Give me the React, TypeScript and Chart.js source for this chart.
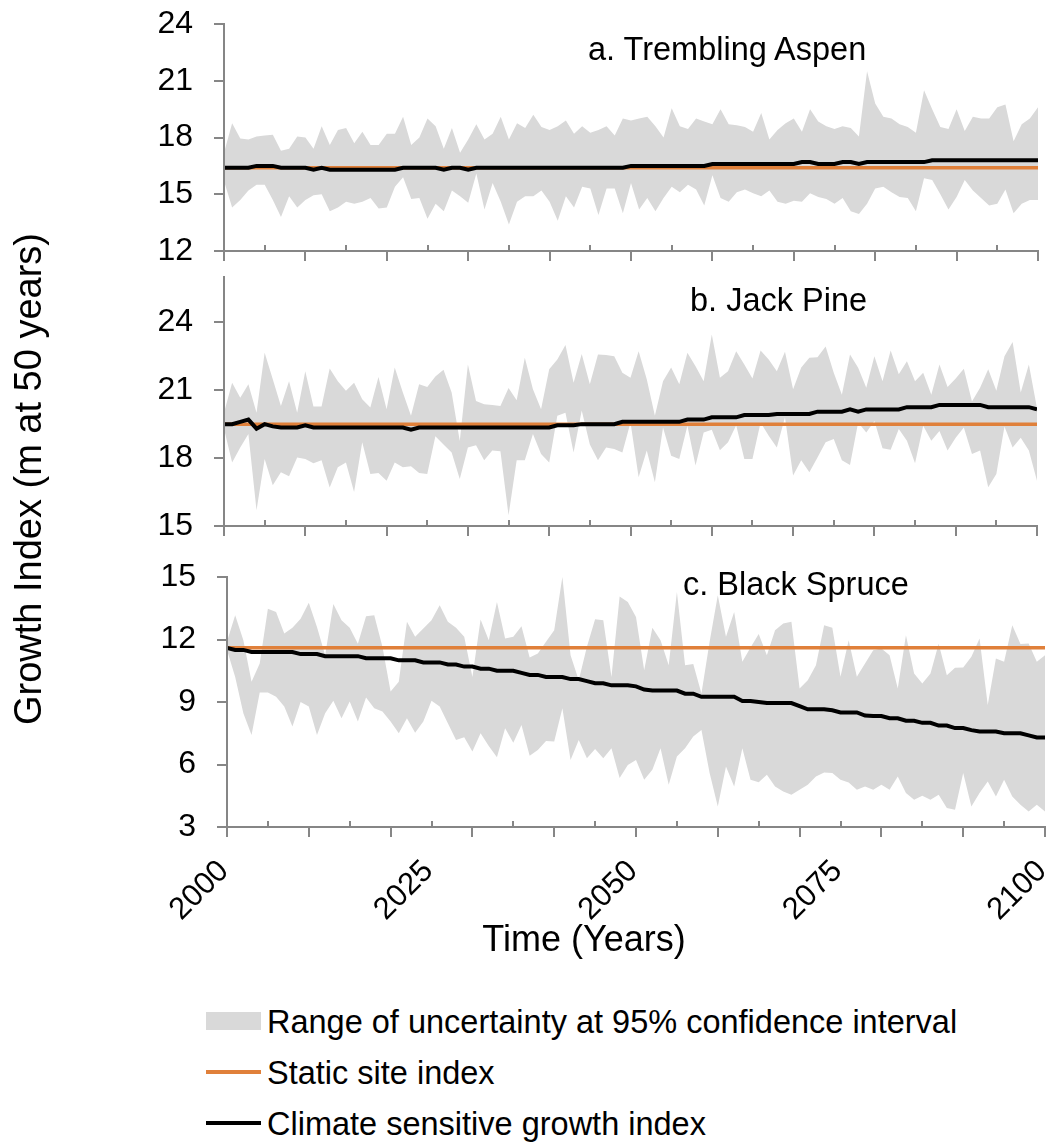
import React, { useEffect, useRef } from 'react';
import { Chart, registerables } from 'chart.js';

Chart.register(...registerables);

const FONT_FAMILY = '"Liberation Sans", Arial, Helvetica, sans-serif';
const AXIS_COLOR = '#868686';
const BAND_COLOR = '#D9D9D9';
const STATIC_COLOR = '#E0803A';
const CLIMATE_COLOR = '#000000';
const PAGE_W = 1052;
const PAGE_H = 1143;

// ---------------- data ----------------
const years = Array.from({ length: 101 }, (_, i) => 2000 + i);
const xTickLabels = [2000, 2025, 2050, 2075, 2100];
const xTickMarkYears = years.filter((y) => y % 5 === 0);

const aspenTicks = [12, 15, 18, 21, 24];
const pineTicks = [15, 18, 21, 24];
const spruceTicks = [3, 6, 9, 12, 15];

const aspenStatic = 16.4;
const pineStatic = 19.5;
const spruceStatic = 11.6;

const aspenUpper = [
  17.2, 18.75, 17.95, 17.9, 18.05, 18.1, 18.15, 17.3, 17.4, 18.05,
  18.0, 17.4, 18.6, 17.6, 18.4, 18.5, 17.7, 18.3, 17.6, 17.6,
  18.2, 18.2, 19.1, 17.6, 18.0, 19.0, 18.6, 17.4, 18.5, 17.2,
  17.9, 18.7, 17.9, 18.2, 19.1, 17.9, 18.75, 18.5, 19.2, 18.55,
  18.4, 18.6, 18.9, 18.2, 18.6, 18.25, 18.4, 18.6, 18.1, 19.0,
  18.9, 19.0, 19.1, 18.6, 18.0, 19.55, 18.6, 18.45, 19.0, 18.85,
  18.7, 19.5, 18.7, 18.65, 18.55, 18.3, 19.3, 17.9, 18.4, 18.75,
  19.0, 18.3, 19.5, 18.85, 18.6, 18.45, 18.6, 18.5, 18.05, 21.5,
  19.8, 19.1, 19.0, 18.7, 18.55, 18.25, 20.5, 19.5, 18.55, 18.45,
  19.5, 18.35, 19.1, 19.0, 19.0, 19.6, 19.75, 17.8, 18.7, 19.0,
  19.6,
];
const aspenLower = [
  15.7, 14.3, 14.7, 15.2, 15.5, 15.5, 14.7, 13.8, 14.9, 14.3,
  14.7, 14.95, 15.0, 14.1, 14.3, 14.6, 14.5, 14.6, 14.8, 14.25,
  14.3, 15.4, 15.9, 14.75, 14.8, 13.7, 14.5, 14.1, 15.2, 14.9,
  14.55, 16.1, 14.2, 15.6, 14.6, 13.4, 14.6, 14.9, 14.9, 15.2,
  14.6, 13.6, 14.9, 14.3, 15.4, 15.3, 13.9, 15.3, 15.3, 14.0,
  15.6, 14.2, 14.8, 14.1, 14.8, 15.4, 15.1, 15.5, 15.25, 14.4,
  16.0, 14.8, 14.6, 15.1, 15.25, 15.05, 14.9, 15.2, 14.6, 14.5,
  14.65, 14.6, 15.05, 14.85, 14.75, 14.5, 14.8, 14.1, 13.95, 14.5,
  15.3, 15.4, 15.1, 14.85, 14.8, 14.1, 15.85, 15.75, 15.0, 14.2,
  14.85, 15.75, 15.2, 14.8, 14.4, 14.5, 15.25, 14.0, 14.5, 14.7,
  14.7,
];
const aspenClimate = [
  16.4, 16.4, 16.4, 16.4, 16.5, 16.5, 16.5, 16.4, 16.4, 16.4,
  16.4, 16.3, 16.4, 16.3, 16.3, 16.3, 16.3, 16.3, 16.3, 16.3,
  16.3, 16.3, 16.4, 16.4, 16.4, 16.4, 16.4, 16.3, 16.4, 16.4,
  16.3, 16.4, 16.4, 16.4, 16.4, 16.4, 16.4, 16.4, 16.4, 16.4,
  16.4, 16.4, 16.4, 16.4, 16.4, 16.4, 16.4, 16.4, 16.4, 16.4,
  16.5, 16.5, 16.5, 16.5, 16.5, 16.5, 16.5, 16.5, 16.5, 16.5,
  16.6, 16.6, 16.6, 16.6, 16.6, 16.6, 16.6, 16.6, 16.6, 16.6,
  16.6, 16.7, 16.7, 16.6, 16.6, 16.6, 16.7, 16.7, 16.6, 16.7,
  16.7, 16.7, 16.7, 16.7, 16.7, 16.7, 16.7, 16.8, 16.8, 16.8,
  16.8, 16.8, 16.8, 16.8, 16.8, 16.8, 16.8, 16.8, 16.8, 16.8,
  16.8,
];

const pineUpper = [
  20.0, 21.33, 20.67, 21.26, 20.0, 22.65, 21.48, 20.3, 21.4, 20.0,
  21.84, 20.28, 20.28, 21.96, 21.4, 20.97, 21.33, 20.6, 20.23, 21.58,
  20.16, 22.0, 20.9, 19.87, 21.26, 21.14, 21.6, 21.9, 20.9, 18.76,
  22.14, 20.52, 20.38, 20.35, 20.3, 21.1, 20.56, 22.43, 21.04, 20.16,
  21.92, 22.36, 23.0, 21.33, 22.6, 21.26, 22.58, 22.55, 22.5, 21.77,
  21.55, 22.72, 21.48, 19.87, 21.4, 22.0, 21.26, 22.65, 22.06, 21.4,
  23.46, 21.55, 21.84, 22.72, 22.14, 21.52, 22.75, 22.36, 21.84, 22.7,
  21.04, 22.0, 22.43, 22.46, 22.93, 21.77, 20.8, 22.58, 21.99, 21.11,
  22.5, 21.4, 22.75, 21.7, 22.28, 21.4, 21.77, 20.8, 22.14, 21.14,
  21.52, 21.95, 20.5, 21.11, 21.92, 20.97, 22.5, 23.13, 20.9, 22.14,
  20.2,
];
const pineLower = [
  19.3, 17.8, 18.47, 19.06, 15.7, 17.96, 16.8, 17.37, 17.2, 18.03,
  17.96, 17.77, 17.9, 16.7, 17.6, 17.8, 16.5, 18.7, 17.3, 17.34,
  17.0, 17.8, 17.6, 17.64, 17.34, 17.3, 18.96, 18.6, 18.25, 17.08,
  18.47, 18.57, 17.9, 18.33, 18.3, 15.47, 17.9, 17.9, 19.06, 18.18,
  17.8, 19.87, 20.0, 18.25, 20.1, 18.6, 17.9, 18.47, 18.4, 18.25,
  19.57, 17.15, 18.33, 16.93, 19.35, 18.1, 17.96, 19.43, 17.67, 19.13,
  19.25, 18.35, 18.7, 19.45, 17.96, 17.96, 19.57, 18.99, 18.47, 19.8,
  17.23, 17.9, 17.37, 18.03, 18.7, 18.84, 17.9, 17.7, 19.57, 19.13,
  19.64, 18.44, 18.37, 19.28, 18.77, 17.77, 19.43, 18.77, 19.2, 18.33,
  18.9, 19.35, 18.18, 18.33, 16.71, 17.3, 19.4, 18.47, 18.9, 18.33,
  17.0,
];
const pineClimate = [
  19.5, 19.5, 19.6, 19.7, 19.3, 19.5, 19.4, 19.35, 19.35, 19.35,
  19.45, 19.35, 19.35, 19.35, 19.35, 19.35, 19.35, 19.35, 19.35, 19.35,
  19.35, 19.35, 19.35, 19.25, 19.35, 19.35, 19.35, 19.35, 19.35, 19.35,
  19.35, 19.35, 19.35, 19.35, 19.35, 19.35, 19.35, 19.35, 19.35, 19.35,
  19.35, 19.45, 19.45, 19.45, 19.5, 19.5, 19.5, 19.5, 19.5, 19.6,
  19.6, 19.6, 19.6, 19.6, 19.6, 19.6, 19.6, 19.7, 19.7, 19.7,
  19.8, 19.8, 19.8, 19.8, 19.9, 19.9, 19.9, 19.9, 19.95, 19.95,
  19.95, 19.95, 19.95, 20.05, 20.05, 20.05, 20.05, 20.15, 20.05, 20.15,
  20.15, 20.15, 20.15, 20.15, 20.25, 20.25, 20.25, 20.25, 20.35, 20.35,
  20.35, 20.35, 20.35, 20.35, 20.25, 20.25, 20.25, 20.25, 20.25, 20.25,
  20.15,
];

const spruceUpper = [
  11.9, 13.16, 11.97, 9.97, 10.85, 13.48, 13.32, 12.29, 12.57, 13.0,
  13.76, 12.6, 11.25, 13.7, 12.93, 12.57, 11.8, 13.12, 13.16, 11.65,
  9.5, 9.97, 12.85, 12.13, 12.53, 12.93, 13.64, 12.85, 12.57, 12.13,
  10.2, 12.96, 11.97, 13.8, 12.05, 12.13, 12.64, 11.14, 11.33, 11.89,
  12.45, 15.0, 11.25, 10.05, 11.65, 12.97, 12.93, 10.2, 14.07, 13.8,
  13.08, 10.53, 12.57, 11.97, 10.77, 14.28, 10.77, 10.82, 9.41, 11.89,
  14.12, 12.13, 13.32, 10.93, 11.62, 12.26, 11.25, 12.45, 12.77, 12.85,
  9.65, 10.05, 10.77, 12.69, 12.57, 10.21, 11.97, 10.21, 10.85, 11.49,
  11.57, 11.25, 9.65, 12.21, 10.37, 9.89, 10.37, 11.8, 10.29, 10.64,
  10.66, 11.17, 12.05, 8.86, 11.09, 10.93, 12.69, 11.78, 11.81, 10.93,
  11.25,
];
const spruceLower = [
  11.5, 10.2, 8.46, 7.42, 9.46, 9.46, 9.25, 8.78, 7.82, 9.0,
  8.78, 7.42, 8.46, 9.06, 8.22, 9.02, 8.06, 9.22, 8.7, 8.54,
  8.06, 7.5, 8.22, 7.53, 8.06, 9.06, 8.78, 7.98, 7.18, 7.31,
  6.62, 7.5, 6.89, 6.35, 7.74, 7.05, 7.9, 6.42, 6.7, 7.13,
  7.1, 8.7, 6.22, 7.18, 6.3, 6.75, 6.3, 6.78, 5.35, 5.98,
  6.22, 5.27, 5.75, 6.78, 5.03, 6.38, 6.78, 7.34, 7.66, 5.59,
  3.99, 5.9, 4.95, 6.78, 5.27, 5.15, 5.51, 4.95, 4.71, 4.55,
  4.79, 5.03, 5.43, 5.62, 5.59, 5.27, 5.14, 4.79, 4.95, 4.79,
  5.03, 4.79, 5.43, 4.63, 4.31, 4.5, 4.31, 4.55, 3.91, 3.83,
  5.59, 3.99, 4.63, 5.19, 4.47, 5.27, 4.47, 4.07, 3.75, 4.07,
  3.75,
];
const spruceClimate = [
  11.6, 11.5, 11.5, 11.4, 11.4, 11.4, 11.4, 11.4, 11.4, 11.3,
  11.3, 11.3, 11.2, 11.2, 11.2, 11.2, 11.2, 11.1, 11.1, 11.1,
  11.1, 11.0, 11.0, 11.0, 10.9, 10.9, 10.9, 10.8, 10.8, 10.7,
  10.7, 10.6, 10.6, 10.5, 10.5, 10.5, 10.4, 10.3, 10.3, 10.2,
  10.2, 10.2, 10.1, 10.1, 10.0, 9.9, 9.9, 9.8, 9.8, 9.8,
  9.75, 9.6, 9.55, 9.55, 9.55, 9.55, 9.4, 9.4, 9.25, 9.25,
  9.25, 9.25, 9.25, 9.05, 9.05, 9.0, 8.95, 8.95, 8.95, 8.95,
  8.8, 8.65, 8.65, 8.65, 8.6, 8.5, 8.5, 8.5, 8.35, 8.33,
  8.33, 8.22, 8.22, 8.1, 8.1, 8.0, 8.0, 7.87, 7.87, 7.75,
  7.75, 7.65, 7.58, 7.58, 7.58, 7.5, 7.5, 7.5, 7.4, 7.3,
  7.3,
];

// ---------------- chart helpers ----------------
type Area = { left: number; right: number; top: number; bottom: number };
type PanelSpec = {
  id: string;
  top: number;
  height: number;
  area: Area;
  yMin: number;
  yMax: number;
  yTicks: number[];
  upper: number[];
  lower: number[];
  climate: number[];
  staticValue: number;
  showXLabels: boolean;
};

// Excel-style category tick marks: major (every 10 y) outside, minor (every 5 y) inside
const xTickMarks = {
  id: 'xTickMarks',
  afterDraw(chart: any) {
    const xs = chart.scales.x;
    const base = chart.chartArea.bottom;
    const ctx = chart.ctx;
    ctx.save();
    ctx.strokeStyle = AXIS_COLOR;
    ctx.lineWidth = 2;
    for (const yr of xTickMarkYears) {
      const px = Math.round(xs.getPixelForValue(yr));
      const major = yr % 10 === 0;
      ctx.beginPath();
      ctx.moveTo(px, major ? base : base - 6);
      ctx.lineTo(px, major ? base + 10 : base);
      ctx.stroke();
    }
    ctx.restore();
  },
};

const toPoints = (arr: number[]) => arr.map((v, i) => ({ x: years[i], y: v }));

function buildChart(canvas: HTMLCanvasElement, p: PanelSpec) {
  return new Chart(canvas, {
    type: 'line',
    data: {
      datasets: [
        {
          label: 'Climate sensitive growth index',
          data: toPoints(p.climate),
          borderColor: CLIMATE_COLOR,
          borderWidth: 4,
          pointRadius: 0,
          fill: false,
          tension: 0,
        },
        {
          label: 'Static site index',
          data: toPoints(years.map(() => p.staticValue)),
          borderColor: STATIC_COLOR,
          borderWidth: 3.5,
          pointRadius: 0,
          fill: false,
          tension: 0,
        },
        {
          label: 'Lower 95% bound',
          data: toPoints(p.lower),
          borderColor: 'rgba(0,0,0,0)',
          borderWidth: 0,
          pointRadius: 0,
          fill: false,
          tension: 0,
        },
        {
          label: 'Range of uncertainty at 95% confidence interval',
          data: toPoints(p.upper),
          borderColor: 'rgba(0,0,0,0)',
          backgroundColor: BAND_COLOR,
          borderWidth: 0,
          pointRadius: 0,
          fill: '-1',
          tension: 0,
        },
      ],
    },
    options: {
      responsive: false,
      animation: false,
      devicePixelRatio: 1,
      events: [],
      layout: {
        padding: { left: 0, right: PAGE_W - p.area.right, top: p.area.top, bottom: 0 },
      },
      plugins: {
        legend: { display: false },
        tooltip: { enabled: false },
        title: { display: false },
      },
      scales: {
        x: {
          type: 'linear',
          min: 2000,
          max: 2100,
          grid: { display: false, drawTicks: false },
          border: { display: true, color: AXIS_COLOR, width: 2, z: 1 },
          ticks: {
            display: p.showXLabels,
            autoSkip: false,
            minRotation: 45,
            maxRotation: 45,
            padding: 26,
            labelOffset: -3,
            color: '#000',
            font: { family: FONT_FAMILY, size: 31 },
            callback: (v: any) => String(v),
          },
          afterBuildTicks: (s: any) => {
            s.ticks = xTickLabels.map((v) => ({ value: v }));
          },
          afterFit: (s: any) => {
            s.height = p.height - p.area.bottom;
            s.paddingLeft = 0;
            s.paddingRight = 0;
            s.paddingTop = 0;
            s.paddingBottom = 0;
          },
        },
        y: {
          type: 'linear',
          min: p.yMin,
          max: p.yMax,
          grid: {
            display: true,
            drawOnChartArea: false,
            drawTicks: true,
            tickLength: 10,
            color: AXIS_COLOR,
            lineWidth: 2,
          },
          border: { display: true, color: AXIS_COLOR, width: 2, z: 1 },
          ticks: {
            autoSkip: false,
            padding: 21,
            color: '#000',
            font: { family: FONT_FAMILY, size: 32 },
            callback: (v: any) => String(v),
          },
          afterBuildTicks: (s: any) => {
            s.ticks = p.yTicks.map((v) => ({ value: v }));
          },
          afterFit: (s: any) => {
            s.width = p.area.left;
            s.paddingLeft = 0;
            s.paddingRight = 0;
            s.paddingTop = 0;
            s.paddingBottom = 0;
          },
        },
      },
    } as any,
    plugins: [xTickMarks],
  });
}

const panels: PanelSpec[] = [
  {
    id: 'aspen',
    top: 0,
    height: 262,
    area: { left: 224, right: 1038, top: 24, bottom: 251 },
    yMin: 12,
    yMax: 24,
    yTicks: aspenTicks,
    upper: aspenUpper,
    lower: aspenLower,
    climate: aspenClimate,
    staticValue: aspenStatic,
    showXLabels: false,
  },
  {
    id: 'pine',
    top: 262,
    height: 274,
    area: { left: 224, right: 1037, top: 15, bottom: 264 },
    yMin: 15,
    yMax: 26,
    yTicks: pineTicks,
    upper: pineUpper,
    lower: pineLower,
    climate: pineClimate,
    staticValue: pineStatic,
    showXLabels: false,
  },
  {
    id: 'spruce',
    top: 540,
    height: 420,
    area: { left: 227, right: 1045, top: 37, bottom: 287 },
    yMin: 3,
    yMax: 15,
    yTicks: spruceTicks,
    upper: spruceUpper,
    lower: spruceLower,
    climate: spruceClimate,
    staticValue: spruceStatic,
    showXLabels: true,
  },
];

function Panel({ spec }: { spec: PanelSpec }) {
  const ref = useRef<HTMLCanvasElement>(null);
  useEffect(() => {
    if (!ref.current) return;
    const chart = buildChart(ref.current, spec);
    return () => chart.destroy();
  }, [spec]);
  return (
    <canvas
      ref={ref}
      width={PAGE_W}
      height={spec.height}
      style={{ position: 'absolute', left: 0, top: spec.top, width: PAGE_W, height: spec.height, display: 'block' }}
    />
  );
}

const txt: React.CSSProperties = {
  position: 'absolute',
  fontFamily: FONT_FAMILY,
  color: '#000',
  whiteSpace: 'nowrap',
  lineHeight: 1,
  margin: 0,
};

export default function App() {
  return (
    <div
      style={{
        position: 'absolute',
        left: 0,
        top: 0,
        width: PAGE_W,
        height: PAGE_H,
        overflow: 'hidden',
        background: '#fff',
      }}
    >
      {panels.map((p) => (
        <Panel key={p.id} spec={p} />
      ))}

      <div style={{ ...txt, fontSize: 32.5, left: 588, top: 33 }}>a. Trembling Aspen</div>
      <div style={{ ...txt, fontSize: 32.5, left: 690, top: 284 }}>b. Jack Pine</div>
      <div style={{ ...txt, fontSize: 32.5, left: 683, top: 568 }}>c. Black Spruce</div>

      <div
        style={{
          ...txt,
          fontSize: 38,
          left: 28 - 350,
          top: 479 - 19,
          width: 700,
          height: 38,
          textAlign: 'center',
          transform: 'rotate(-90deg)',
          transformOrigin: '50% 50%',
        }}
      >
        Growth Index (m at 50 years)
      </div>

      <div style={{ ...txt, fontSize: 36, left: 384, top: 921, width: 400, textAlign: 'center' }}>
        Time (Years)
      </div>

      <div style={{ position: 'absolute', left: 206, top: 1012, width: 55, height: 18, background: BAND_COLOR }} />
      <div style={{ ...txt, fontSize: 32.5, left: 267, top: 1006 }}>
        Range of uncertainty at 95% confidence interval
      </div>
      <div style={{ position: 'absolute', left: 206, top: 1070, width: 55, height: 4, background: STATIC_COLOR }} />
      <div style={{ ...txt, fontSize: 32.5, left: 267, top: 1057 }}>Static site index</div>
      <div style={{ position: 'absolute', left: 206, top: 1121, width: 55, height: 4, background: CLIMATE_COLOR }} />
      <div style={{ ...txt, fontSize: 32.5, left: 267, top: 1108 }}>Climate sensitive growth index</div>
    </div>
  );
}
